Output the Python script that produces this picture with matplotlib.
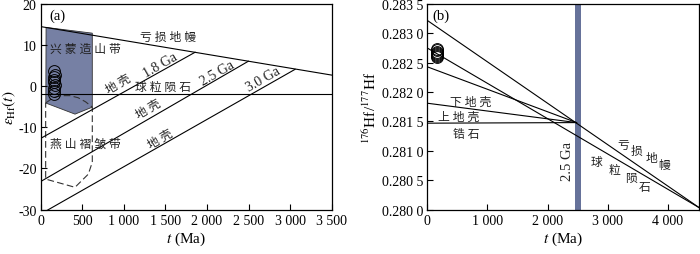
import numpy as np
import matplotlib
matplotlib.use('Agg')
import matplotlib.pyplot as plt

plt.rcParams['font.family'] = ['Liberation Serif', 'Noto Sans CJK SC']
plt.rcParams['mathtext.fontset'] = 'stix'

# (a) epsilon Hf vs t
dm_t = [0, 3500]
dm_eps = [14.5, 2.7]
chur_eps = -1.9
crust_t = [[0, 1857], [0, 2498], [0, 3060]]
crust_eps = [[-12.7, 8.25], [-23.2, 6.07], [-31.1, 4.1]]

orogen_t = [65, 621, 621, 413, 62]
orogen_eps = [14.3, 12.9, -5.1, -6.8, -4.1]

yanshan_t = [60, 150, 250, 350, 450, 540, 621, 621, 573, 413, 60, 60]
yanshan_eps = [-4.1, -2.8, -2.3, -2.3, -2.8, -3.8, -5.1, -18.5, -21.4, -24.6, -22.6, -4.1]

zircon_t_a = [165, 168, 163, 166, 164, 167, 165, 163, 166]
zircon_eps = [3.6, 2.8, 2.2, 1.5, 0.9, 0.2, -0.5, -1.2, -2.0]

xt_a = [0, 500, 1000, 1500, 2000, 2500, 3000, 3500]
xl_a = ['0', '500', '1 000', '1 500', '2 000', '2 500', '3 000', '3 500']
yt_a = [-30, -20, -10, 0, 10, 20]
yl_a = ['-30', '-20', '-10', '0', '10', '20']

# (b) 176Hf/177Hf vs t
conv_t = 2480
conv_hf = 0.28148
dm_hf = [0.28322, 0.28003]
chur_hf = [0.28275, 0.28003]
end_t = 4520
evol_start = [0.28243, 0.28181, 0.28147]

zircon_t_b = [166, 164, 167, 165, 166, 164, 167, 165]
zircon_hf = [0.28273, 0.28271, 0.28269, 0.28267, 0.28265, 0.28263, 0.28261, 0.28259]

band_t = [2460, 2550]

xt_b = [0, 1000, 2000, 3000, 4000]
xl_b = ['0', '1 000', '2 000', '3 000', '4 000']
yt_b = [0.2800, 0.2805, 0.2810, 0.2815, 0.2820, 0.2825, 0.2830, 0.2835]
yl_b = ['0.280 0', '0.280 5', '0.281 0', '0.281 5', '0.282 0', '0.282 5', '0.283 0', '0.283 5']

fill_c = '#7680a4'
band_c = '#66729a'
txt_c = '#222222'
lw = 0.8

fig = plt.figure(figsize=(7, 2.55), dpi=100)
ax1 = fig.add_axes([0.0581, 0.1745, 0.4157, 0.806])
ax2 = fig.add_axes([0.6104, 0.1745, 0.3886, 0.806])

# ---- panel a
ax1.fill(orogen_t, orogen_eps, facecolor=fill_c, edgecolor='#333333', lw=0.6, zorder=1)
ax1.plot(yanshan_t, yanshan_eps, color='#333333', ls=(0, (6, 3)), lw=0.8, zorder=2)
ax1.plot(dm_t, dm_eps, 'k-', lw=lw)
ax1.axhline(chur_eps, color='k', lw=lw)
for tt, ee in zip(crust_t, crust_eps):
    ax1.plot(tt, ee, 'k-', lw=lw)
ax1.plot(zircon_t_a, zircon_eps, 'o', mfc='none', mec='k', ms=8.5, mew=0.7, zorder=3)

ax1.set_xlim(0, 3500)
ax1.set_ylim(-30, 20)
ax1.set_xticks(xt_a)
ax1.set_xticklabels(xl_a)
ax1.set_yticks(yt_a)
ax1.set_yticklabels(yl_a)
ax1.set_xlabel(r'$t$ (Ma)', fontsize=11, labelpad=2)
ax1.set_ylabel(r'$\varepsilon_{\rm Hf}(t)$', fontsize=11, labelpad=0)

ax1.text(0.058, 0.943, '(a)', transform=ax1.transAxes, ha='center', va='center', fontsize=10.5)
ax1.text(1532, 12.0, '亏 损 地 幔', fontsize=8.5, ha='center', va='center', color=txt_c)
ax1.text(110, 9.0, '兴 蒙 造 山 带', fontsize=8.5, ha='left', va='center', color=txt_c)
ax1.text(930, 0.6, '地 壳', fontsize=8.5, ha='center', va='center', rotation=30, color=txt_c)
ax1.text(1436, 5.2, '1.8 Ga', fontsize=10, ha='center', va='center', rotation=30, color=txt_c)
ax1.text(1473, -0.2, '球 粒 陨 石', fontsize=8.5, ha='center', va='center', color=txt_c)
ax1.text(2124, 3.4, '2.5 Ga', fontsize=10, ha='center', va='center', rotation=30, color=txt_c)
ax1.text(2677, 1.7, '3.0 Ga', fontsize=10, ha='center', va='center', rotation=30, color=txt_c)
ax1.text(1291, -5.5, '地 壳', fontsize=8.5, ha='center', va='center', rotation=30, color=txt_c)
ax1.text(110, -14.1, '燕 山 褶 皱 带', fontsize=8.5, ha='left', va='center', color=txt_c)
ax1.text(1436, -12.8, '地 壳', fontsize=8.5, ha='center', va='center', rotation=30, color=txt_c)

# ---- panel b
ax2.axvspan(band_t[0], band_t[1], color=band_c, lw=0, zorder=1)
ax2.plot([0, end_t], dm_hf, 'k-', lw=lw)
ax2.plot([0, end_t], chur_hf, 'k-', lw=lw)
for v0 in evol_start:
    ax2.plot([0, conv_t], [v0, conv_hf], 'k-', lw=lw)
ax2.plot(zircon_t_b, zircon_hf, 'o', mfc='none', mec='k', ms=8.5, mew=0.7, zorder=3)

ax2.set_xlim(0, end_t)
ax2.set_ylim(0.2800, 0.2835)
ax2.set_xticks(xt_b)
ax2.set_xticklabels(xl_b)
ax2.set_yticks(yt_b)
ax2.set_yticklabels(yl_b)
ax2.set_xlabel(r'$t$ (Ma)', fontsize=11, labelpad=2)
ax2.set_ylabel(r'$^{176}$Hf/$^{177}$Hf', fontsize=11, labelpad=2)

ax2.text(0.05, 0.943, '(b)', transform=ax2.transAxes, ha='center', va='center', fontsize=10.5)
ax2.text(721, 0.281836, '下 地 壳', fontsize=8.5, ha='center', va='center', color=txt_c)
ax2.text(526, 0.28158, '上 地 壳', fontsize=8.5, ha='center', va='center', color=txt_c)
ax2.text(642, 0.28128, '锆 石', fontsize=8.5, ha='center', va='center', color=txt_c)
ax2.text(2333, 0.28084, '2.5 Ga', fontsize=10.5, ha='center', va='center', rotation=90, color=txt_c)

dm_chars = ['亏', '损', '地', '幔']
dm_pos_t = [3252, 3474, 3723, 3944]
dm_pos_v = [0.28110, 0.28099, 0.28087, 0.28076]
for c, tt, vv in zip(dm_chars, dm_pos_t, dm_pos_v):
    ax2.text(tt, vv, c, fontsize=8.5, ha='center', va='center', color=txt_c)
ch_chars = ['球', '粒', '陨', '石']
ch_pos_t = [2809, 3113, 3390, 3610]
ch_pos_v = [0.28081, 0.28067, 0.28053, 0.28039]
for c, tt, vv in zip(ch_chars, ch_pos_t, ch_pos_v):
    ax2.text(tt, vv, c, fontsize=8.5, ha='center', va='center', color=txt_c)

for ax in (ax1, ax2):
    ax.tick_params(direction='in', length=4, width=0.8, labelsize=10, pad=3)
    for s in ax.spines.values():
        s.set_linewidth(0.9)

fig.savefig('out.png', dpi=100)
